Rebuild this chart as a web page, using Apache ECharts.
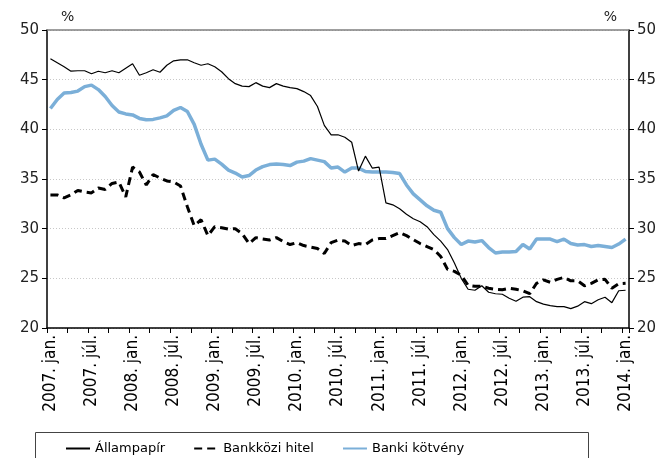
<!DOCTYPE html>
<html lang="hu">
<head>
    <meta charset="UTF-8">
    <title>Hozamok</title>
    <script src="https://cdn.jsdelivr.net/npm/echarts@6/dist/echarts.min.js"></script>
    <style>
        html, body { margin: 0; padding: 0; background: #fff; }
        #chart { width: 667px; height: 458px; }
    </style>
</head>
<body>
<div id="chart"></div>
<script>
    // havi adatok, 2007. jan. - 2014. jan.
    const years = [2007, 2008, 2009, 2010, 2011, 2012, 2013, 2014];
    const monthNames = ['jan.', 'febr.', 'márc.', 'ápr.', 'máj.', 'jún.', 'júl.', 'aug.', 'szept.', 'okt.', 'nov.', 'dec.'];

    const allampapir = [
        47.1, 46.7, 46.3, 45.85, 45.9, 45.9, 45.6, 45.85, 45.7, 45.9, 45.7, 46.15,
        46.6, 45.45, 45.7, 46.0, 45.75, 46.45, 46.9, 47.0, 47.0, 46.7, 46.45, 46.6,
        46.3, 45.8, 45.1, 44.6, 44.35, 44.3, 44.7, 44.35, 44.2, 44.6, 44.35, 44.2,
        44.1, 43.8, 43.4, 42.3, 40.4, 39.45, 39.45, 39.2, 38.7, 35.8, 37.3, 36.1,
        36.2, 32.6, 32.4, 32.0, 31.45, 31.0, 30.7, 30.2, 29.4, 28.75, 27.9, 26.55,
        25.0, 23.9, 23.8, 24.25, 23.6, 23.45, 23.4, 23.0, 22.7, 23.1, 23.15, 22.65,
        22.4, 22.25, 22.15, 22.15, 21.95, 22.2, 22.65, 22.45, 22.85, 23.1, 22.55, 23.75,
        23.8
    ];
    const bankkozi = [
        33.4, 33.4, 33.1, 33.4, 33.85, 33.7, 33.6, 34.1, 33.95, 34.55, 34.7, 33.2,
        36.2, 35.7, 34.4, 35.45, 35.1, 34.8, 34.7, 34.3, 32.2, 30.3, 30.9, 29.3,
        30.2, 30.1, 29.95, 30.0, 29.5, 28.5, 29.1, 28.97, 28.86, 29.1, 28.7, 28.4,
        28.6, 28.3, 28.15, 28.0, 27.5, 28.6, 28.85, 28.75, 28.3, 28.5, 28.4, 28.85,
        29.0, 29.0, 29.3, 29.6, 29.3, 28.9, 28.5, 28.2, 27.9, 27.2, 25.9, 25.7,
        25.3, 24.3, 24.2, 24.2, 24.0, 23.9, 23.85, 24.0, 23.9, 23.75, 23.45, 24.5,
        24.85, 24.6, 24.9, 25.1, 24.75, 24.75, 24.25, 24.5, 24.85, 24.9, 24.0, 24.45,
        24.5
    ];
    const bankiKotveny = [
        42.1, 43.0, 43.65, 43.7, 43.85, 44.3, 44.45, 44.0, 43.3, 42.4, 41.75, 41.55,
        41.45, 41.1, 40.97, 41.0, 41.15, 41.35, 41.9, 42.2, 41.8, 40.5, 38.5, 36.9,
        37.0, 36.5, 35.9, 35.6, 35.2, 35.35, 35.9, 36.25, 36.45, 36.5, 36.45, 36.35,
        36.7, 36.8, 37.05, 36.9, 36.75, 36.1, 36.2, 35.7, 36.1, 36.1, 35.75, 35.7,
        35.7, 35.7, 35.65, 35.55, 34.4, 33.5, 32.9, 32.3, 31.85, 31.65, 30.0, 29.1,
        28.4, 28.75, 28.65, 28.8, 28.1, 27.55, 27.65, 27.65, 27.7, 28.4, 27.95, 28.95,
        28.95, 28.95, 28.7, 28.95, 28.5, 28.35, 28.4, 28.2, 28.3, 28.2, 28.1, 28.45,
        28.95
    ];

    // kategóriák: "2007. jan." stb.
    const categories = [];
    years.forEach(y => {
        monthNames.forEach(m => {
            if (categories.length < allampapir.length) categories.push(y + '. ' + m);
        });
    });

    const axisFont = 'DejaVu Sans, Verdana, sans-serif';
    const narrowFont = "'DejaVu Sans Condensed', 'Liberation Sans Narrow', 'Liberation Sans', sans-serif";

    const chart = echarts.init(document.getElementById('chart'));

    const yAxisBase = {
        type: 'value',
        min: 20,
        max: 50,
        interval: 5,
        axisLine: { show: true, lineStyle: { color: '#000', width: 1.5 } },
        axisTick: { show: true, length: 5, lineStyle: { color: '#000' } },
        axisLabel: { color: '#222', fontSize: 15, fontFamily: axisFont },
        name: '%',
        nameGap: 6
    };

    chart.setOption({
        animation: false,
        grid: { left: 47, right: 38, top: 30, bottom: 130 },
        xAxis: [{
            type: 'category',
            data: categories,
            boundaryGap: true,
            axisLine: { lineStyle: { color: '#000', width: 1.5 } },
            axisTick: { show: true, interval: 2, length: 5, lineStyle: { color: '#000' } },
            axisLabel: {
                interval: 5,
                rotate: 90,
                color: '#000',
                fontSize: 17,
                fontFamily: narrowFont,
                margin: 7
            }
        }, {
            type: 'category',
            data: categories,
            position: 'top',
            axisLine: { show: true, lineStyle: { color: '#808080', width: 1.5 } },
            axisTick: { show: false },
            axisLabel: { show: false }
        }],
        yAxis: [
            Object.assign({}, yAxisBase, {
                position: 'left',
                nameTextStyle: { color: '#222', fontSize: 14, fontFamily: axisFont, align: 'left', padding: [0, 0, 0, 14] },
                splitLine: { show: true, lineStyle: { color: '#c8c8c8', type: [1, 2], width: 1 } }
            }),
            Object.assign({}, yAxisBase, {
                position: 'right',
                nameTextStyle: { color: '#222', fontSize: 14, fontFamily: axisFont, align: 'right', padding: [0, 12, 0, 0] },
                splitLine: { show: false }
            })
        ],
        legend: {
            left: 60,
            top: 437,
            itemGap: 28,
            itemWidth: 24,
            itemHeight: 12,
            itemStyle: { opacity: 0 },
            textStyle: { color: '#000', fontSize: 13, fontFamily: axisFont },
            data: ['Állampapír', 'Bankközi hitel', 'Banki kötvény']
        },
        graphic: [{
            type: 'rect',
            shape: { x: 35.5, y: 432.5, width: 553, height: 40 },
            style: { fill: 'none', stroke: '#444', lineWidth: 1 },
            silent: true
        }],
        series: [
            {
                name: 'Állampapír',
                type: 'line',
                data: allampapir,
                symbol: 'none',
                lineStyle: { color: '#000', width: 1.2 },
                itemStyle: { color: '#000' },
                z: 3
            },
            {
                name: 'Bankközi hitel',
                type: 'line',
                data: bankkozi,
                symbol: 'none',
                lineStyle: { color: '#000', width: 3, type: [8, 5] },
                itemStyle: { color: '#000' },
                z: 2
            },
            {
                name: 'Banki kötvény',
                type: 'line',
                data: bankiKotveny,
                symbol: 'none',
                lineStyle: { color: '#7bafd8', width: 3.5 },
                itemStyle: { color: '#7bafd8' },
                z: 1
            }
        ]
    });
</script>
</body>
</html>
